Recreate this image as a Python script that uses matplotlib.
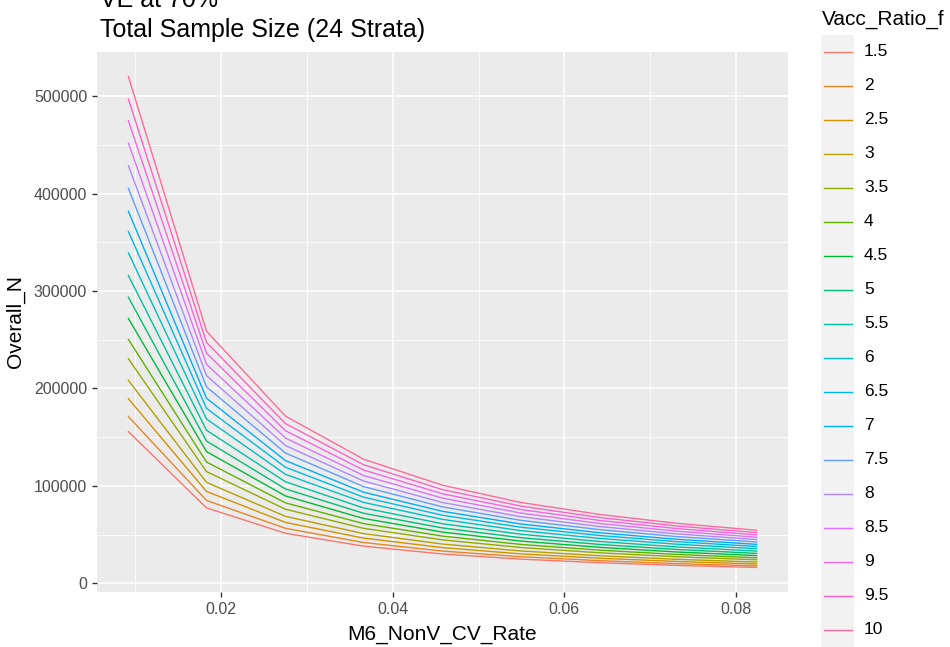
import numpy as np
import matplotlib
matplotlib.use("Agg")
import matplotlib.pyplot as plt
from matplotlib.lines import Line2D
from matplotlib.patches import Rectangle

plt.rcParams["font.family"] = ["Liberation Sans", "DejaVu Sans"]

# M6_NonV_CV_Rate values (x)
cv_rate = [0.0092, 0.0183, 0.0275, 0.0366, 0.0458, 0.0549, 0.0641, 0.0732, 0.0824]

# Vacc_Ratio_f levels
vacc_ratio = ["1.5", "2", "2.5", "3", "3.5", "4", "4.5", "5", "5.5",
              "6", "6.5", "7", "7.5", "8", "8.5", "9", "9.5", "10"]

# Overall_N per level, one value per cv_rate point
n_1_5 = [155700, 77460, 51380, 38150, 30140, 24860, 21180, 18410, 16310]
n_2 = [171100, 85120, 56460, 41920, 33120, 27320, 23270, 20230, 17930]
n_2_5 = [189500, 94280, 62540, 46430, 36690, 30260, 25770, 22410, 19860]
n_3 = [208300, 103630, 68740, 51030, 40330, 33260, 28330, 24630, 21830]
n_3_5 = [230500, 114670, 76070, 56470, 44620, 36800, 31350, 27260, 24150]
n_4 = [250300, 124520, 82600, 61320, 48460, 39970, 34040, 29600, 26230]
n_4_5 = [271800, 135220, 89690, 66590, 52620, 43400, 36960, 32140, 28480]
n_5 = [293600, 146070, 96890, 71930, 56840, 46880, 39930, 34720, 30760]
n_5_5 = [315900, 157160, 104250, 77400, 61160, 50440, 42960, 37350, 33100]
n_6 = [339100, 168700, 111900, 83080, 65650, 54140, 46120, 40100, 35530]
n_6_5 = [361000, 179600, 119130, 88450, 69890, 57640, 49100, 42690, 37830]
n_7 = [381800, 189950, 125990, 93540, 73920, 60960, 51920, 45150, 40010]
n_7_5 = [405300, 201640, 133750, 99300, 78470, 64710, 55120, 47930, 42470]
n_8 = [428600, 213230, 141440, 105010, 82980, 68430, 58290, 50680, 44910]
n_8_5 = [451800, 224770, 149090, 110690, 87470, 72140, 61440, 53430, 47340]
n_9 = [474700, 236160, 156650, 116300, 91900, 75800, 64560, 56130, 49740]
n_9_5 = [496900, 247210, 163980, 121740, 96200, 79340, 67580, 58760, 52070]
n_10 = [520100, 258750, 171630, 127420, 100690, 83040, 70730, 61500, 54500]

overall_n = [n_1_5, n_2, n_2_5, n_3, n_3_5, n_4, n_4_5, n_5, n_5_5,
             n_6, n_6_5, n_7, n_7_5, n_8, n_8_5, n_9, n_9_5, n_10]

x_ticks = [0.02, 0.04, 0.06, 0.08]
y_ticks = [0, 100000, 200000, 300000, 400000, 500000]

W, H = 950, 647


def hcl_to_hex(h, c, l):
    # polar Luv -> sRGB, same as R's hcl()
    hr = np.deg2rad(h)
    u, v = c * np.cos(hr), c * np.sin(hr)
    Y = ((l + 16) / 116) ** 3
    un, vn = 0.1978398, 0.4683363
    up = u / (13 * l) + un
    vp = v / (13 * l) + vn
    X = Y * 9 * up / (4 * vp)
    Z = Y * (12 - 3 * up - 20 * vp) / (4 * vp)
    M = np.array([[3.240479, -1.537150, -0.498535],
                  [-0.969256, 1.875992, 0.041556],
                  [0.055648, -0.204043, 1.057311]])
    rgb = M @ np.array([X, Y, Z])
    rgb = np.where(rgb > 0.0031308, 1.055 * np.abs(rgb) ** (1 / 2.4) - 0.055, 12.92 * rgb)
    rgb = np.clip(rgb, 0, 1)
    return "#%02x%02x%02x" % tuple(int(round(x * 255)) for x in rgb)


n_lev = len(vacc_ratio)
hues = np.linspace(15, 375, n_lev + 1)[:n_lev]
colors = [hcl_to_hex(h, 100, 65) for h in hues]

fig = plt.figure(figsize=(W / 100, H / 100), dpi=100)
ax = fig.add_axes([97 / W, 1 - 592 / H, (788 - 97) / W, (592 - 52) / H])
ax.set_facecolor("#EBEBEB")

for vals, col in zip(overall_n, colors):
    ax.plot(cv_rate, vals, color=col, linewidth=1.0, zorder=3)

x_span = max(cv_rate) - min(cv_rate)
ax.set_xlim(min(cv_rate) - 0.05 * x_span, max(cv_rate) + 0.05 * x_span)
all_n = [v for s in overall_n for v in s]
y_span = max(all_n) - min(all_n)
ax.set_ylim(min(all_n) - 0.05 * y_span, max(all_n) + 0.05 * y_span)

ax.set_xticks(x_ticks)
ax.set_xticklabels([f"{t:.2f}" for t in x_ticks])
ax.set_yticks(y_ticks)
ax.set_yticklabels([str(t) for t in y_ticks])
ax.set_xticks([0.01, 0.03, 0.05, 0.07], minor=True)
ax.set_yticks([50000, 150000, 250000, 350000, 450000], minor=True)
ax.grid(True, which="major", color="white", linewidth=1.1, zorder=1)
ax.grid(True, which="minor", color="white", linewidth=0.55, zorder=1)
ax.set_axisbelow(True)
ax.tick_params(which="major", length=3.6, width=1.0, color="#333333",
               labelcolor="#4D4D4D", labelsize=11.5, pad=3.5)
ax.tick_params(which="minor", length=0)
for s in ax.spines.values():
    s.set_visible(False)

ax.set_xlabel("M6_NonV_CV_Rate", fontsize=15, labelpad=6)
ax.set_ylabel("Overall_N", fontsize=15, labelpad=6.5)

fig.text(100 / W, 1 - 7 / H, "VE at 70%", fontsize=18, va="baseline", ha="left")
fig.text(100 / W, 1 - 37 / H, "Total Sample Size (24 Strata)", fontsize=18,
         va="baseline", ha="left")

# legend drawn on an overlay in pixel coordinates
ov = fig.add_axes([0, 0, 1, 1], facecolor="none")
ov.set_xlim(0, W)
ov.set_ylim(H, 0)
ov.axis("off")
ov.text(822, 25, "Vacc_Ratio_f", fontsize=15, va="baseline", ha="left")
key_top, key_h = 35, 34
ov.add_patch(Rectangle((821, key_top), 33, key_h * n_lev, facecolor="#F2F2F2",
                       edgecolor="none"))
for i, (lab, col) in enumerate(zip(vacc_ratio, colors)):
    yc = key_top + key_h * (i + 0.5)
    ov.add_line(Line2D([824, 852], [yc, yc], color=col, linewidth=1.0))
    ov.text(864, yc, lab, fontsize=12.5, va="center", ha="left")

fig.savefig("out.png", dpi=100)
